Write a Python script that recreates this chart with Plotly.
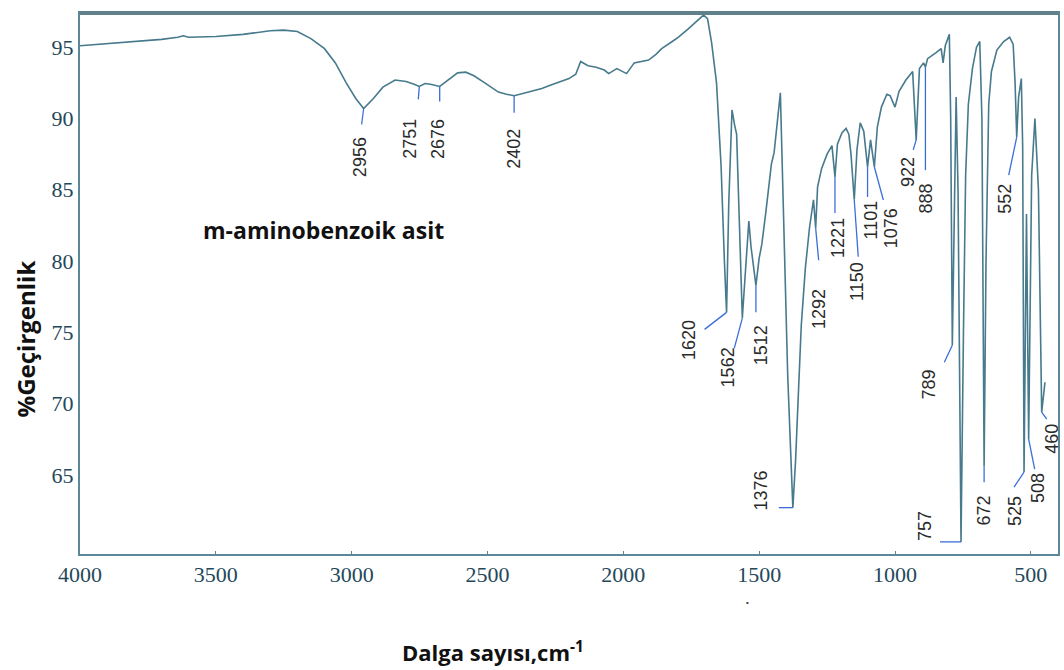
import plotly.graph_objects as go

# IR spectrum of m-aminobenzoic acid: wavenumber (cm-1) and %transmittance
wavenumber = [
    4000, 3900, 3800, 3700, 3640, 3620, 3600, 3500, 3400, 3300, 3250, 3200,
    3150, 3100, 3060, 3020, 2985, 2956, 2920, 2885, 2840, 2800, 2770, 2751,
    2730, 2710, 2676, 2650, 2610, 2580, 2550, 2510, 2460, 2430, 2402, 2370,
    2336, 2300, 2274, 2230, 2200, 2175, 2157, 2130, 2100, 2070, 2054, 2024,
    2000, 1988, 1960, 1907, 1880, 1859, 1820, 1797, 1760, 1723, 1705, 1690,
    1675, 1657, 1640, 1628, 1620, 1612, 1600, 1590, 1583, 1575, 1562, 1548,
    1538, 1530, 1512, 1500, 1490, 1475, 1455, 1445, 1435, 1422, 1410, 1395,
    1376, 1366, 1355, 1345, 1330, 1315, 1300, 1292, 1285, 1270, 1250, 1232,
    1221, 1212, 1195, 1180, 1170, 1162, 1150, 1140, 1128, 1115, 1101, 1090,
    1076, 1065, 1050, 1030, 1018, 1000, 985, 960, 935, 922, 910, 895,
    888, 880, 850, 830, 823, 815, 800, 795, 789, 782, 775, 768,
    757, 748, 740, 730, 715, 700, 688, 680, 672, 665, 655, 645,
    625, 600, 578, 565, 558, 552, 545, 535, 530, 525, 516, 508,
    497, 485, 472, 460, 448,
]
transmittance = [
    95.1, 95.25, 95.4, 95.55, 95.7, 95.8, 95.7, 95.75, 95.9, 96.15, 96.2, 96.1,
    95.6, 94.9, 93.9, 92.5, 91.4, 90.7, 91.4, 92.2, 92.7, 92.6, 92.4, 92.25,
    92.45, 92.4, 92.25, 92.6, 93.2, 93.25, 93.0, 92.5, 91.85, 91.7, 91.6, 91.75,
    91.9, 92.1, 92.3, 92.6, 92.8, 93.1, 94.0, 93.7, 93.6, 93.4, 93.15, 93.5,
    93.3, 93.15, 93.9, 94.1, 94.5, 94.9, 95.4, 95.7, 96.3, 96.9, 97.25, 97.0,
    95.3, 92.5, 86.6, 80.0, 76.4, 84.0, 90.6, 89.5, 88.9, 84.0, 76.0, 80.0,
    82.8, 81.0, 78.3, 80.2, 81.2, 83.5, 86.8, 87.6, 89.5, 91.8, 83.0, 72.0,
    62.7, 66.0, 71.0, 75.5, 79.5, 82.3, 84.3, 82.3, 85.2, 86.5, 87.5, 88.1,
    85.9, 88.2, 89.0, 89.3, 88.9, 87.5, 84.3, 87.8, 89.7, 89.1, 86.6, 88.5,
    86.6, 89.4, 90.8, 91.7, 91.6, 90.8, 91.9, 92.7, 93.3, 88.5, 93.5, 93.9,
    93.6, 94.2, 94.6, 94.9, 93.9, 95.1, 95.9, 90.0, 74.1, 84.0, 91.5, 85.0,
    60.3, 75.0, 86.0, 91.0, 93.5, 95.0, 95.4, 90.0, 65.6, 80.0, 91.0, 93.3,
    94.8, 95.4, 95.7, 95.2, 92.5, 88.7, 91.5, 92.8, 88.0, 65.2, 83.3, 67.5,
    86.0, 90.0, 85.0, 69.4, 71.5,
]

# Labelled band positions (cm-1)
peak_labels = [2956, 2751, 2676, 2402, 1620, 1562, 1512, 1376, 1292, 1221,
               1150, 1101, 1076, 922, 888, 789, 757, 672, 552, 525, 508, 460]

x_ticks = [4000, 3500, 3000, 2500, 2000, 1500, 1000, 500]
y_ticks = [65, 70, 75, 80, 85, 90, 95]

# Placement of each band label: connector end and text centre, in pixels
# relative to the band minimum (x to the right, y downward)
label_offsets = {
    2956: ((-2, 16), (-4, 49)),
    2751: ((-1, 13), (-9, 52)),
    2676: ((0, 15), (-1, 53)),
    2402: ((0, 17), (0, 53)),
    1620: ((-22, 17), (-37, 28)),
    1562: ((-8, 30), (-14, 49)),
    1512: ((0, 27), (5, 60)),
    1376: ((-14, 0), (-32, -17)),
    1292: ((3, 32), (4, 81)),
    1221: ((0, 36), (3, 61)),
    1150: ((4, 57), (2, 82)),
    1101: ((0, 30), (3, 53)),
    1076: ((9, 33), (17, 61)),
    922: ((-3, 10), (-8, 32)),
    888: ((0, 103), (1, 131)),
    789: ((-8, 17), (-23, 39)),
    757: ((-21, 0), (-36, -16)),
    672: ((0, 16), (0, 44)),
    552: ((-8, 38), (-12, 62)),
    525: ((-10, 15), (-9, 39)),
    508: ((6, 30), (10, 49)),
    460: ((5, 7), (10, 27)),
}

LINE_COLOR = "#467a8c"
AXIS_COLOR = "#5b8798"
TICK_COLOR = "#24485a"
CONNECTOR_COLOR = "#3a6fd8"

fig = go.Figure()
fig.add_trace(go.Scatter(
    x=wavenumber, y=transmittance, mode="lines",
    line=dict(color=LINE_COLOR, width=1.6),
    hoverinfo="x+y", showlegend=False,
))

t_at = dict(zip(wavenumber, transmittance))
annotations = []
shapes = [
    # heavier top border of the frame
    dict(type="line", xref="paper", yref="paper", x0=0, x1=1, y0=1, y1=1,
         line=dict(color="#60808a", width=4)),
]
for wn in peak_labels:
    (cdx, cdy), (tdx, tdy) = label_offsets[wn]
    # connector from the band minimum towards its label (pixel-sized segment)
    shapes.append(dict(
        type="line", xref="x", yref="y",
        xsizemode="pixel", xanchor=wn, x0=0, x1=cdx,
        ysizemode="pixel", yanchor=t_at[wn], y0=0, y1=-cdy,
        line=dict(color=CONNECTOR_COLOR, width=1.3),
    ))
    annotations.append(dict(
        x=wn, y=t_at[wn], xref="x", yref="y", text=str(wn),
        showarrow=False, textangle=-90, xshift=tdx, yshift=-tdy,
        font=dict(family="Liberation Sans", size=18, color="#2a2a2a"),
    ))

annotations.append(dict(
    x=3104, y=82.17, xref="x", yref="y", text="<b>m-aminobenzoik asit</b>",
    showarrow=False, xanchor="center", yanchor="middle",
    font=dict(family="Open Sans", size=23, color="#111111"),
))
annotations.append(dict(
    x=-0.056, y=0.397, xref="paper", yref="paper", text="<b>%Geçirgenlik</b>",
    showarrow=False, textangle=-90, xanchor="center", yanchor="middle",
    font=dict(family="Open Sans", size=24, color="#111111"),
))
annotations.append(dict(
    x=0.4224, y=-0.181, xref="paper", yref="paper",
    text="<b>Dalga sayısı,cm<sup>-1</sup></b>",
    showarrow=False, xanchor="center", yanchor="middle",
    font=dict(family="Open Sans", size=22, color="#111111"),
))
annotations.append(dict(
    x=1543, y=-0.089, xref="x", yref="paper", text="•",
    showarrow=False, xanchor="center", yanchor="middle",
    font=dict(family="Liberation Sans", size=8, color="#333333"),
))

fig.update_layout(
    width=1064, height=670,
    margin=dict(l=80, r=4, t=13, b=116),
    paper_bgcolor="white", plot_bgcolor="white",
    annotations=annotations,
    shapes=shapes,
    xaxis=dict(
        range=[4000, 400], tickvals=x_ticks, ticktext=[str(v) for v in x_ticks],
        showgrid=False, zeroline=False, showline=True, linecolor=AXIS_COLOR,
        linewidth=2, mirror=True, ticks="inside", ticklen=3, tickcolor=AXIS_COLOR,
        tickfont=dict(family="Liberation Serif", size=22, color=TICK_COLOR),
    ),
    yaxis=dict(
        range=[59.45, 97.4], tickvals=y_ticks,
        showgrid=False, zeroline=False, showline=True, linecolor=AXIS_COLOR,
        linewidth=2, mirror=True, ticks="", ticklen=0,
        tickfont=dict(family="Liberation Serif", size=22, color=TICK_COLOR),
    ),
)

fig.write_html("out.html")
